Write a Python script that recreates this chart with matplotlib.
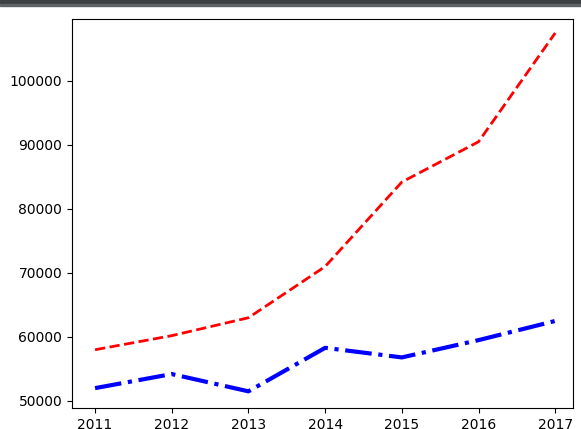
import matplotlib.pyplot as plt
from matplotlib.patches import Rectangle

years = [2011, 2012, 2013, 2014, 2015, 2016, 2017]
red_values = [58000, 60200, 63000, 71000, 84200, 90500, 107500]
blue_values = [52000, 54200, 51500, 58300, 56800, 59500, 62500]

fig = plt.figure(figsize=(5.81, 4.29), dpi=100)
ax = fig.add_axes([0.124, 0.049, 0.862, 0.907])

ax.plot(years, red_values, color="red", linestyle="--", linewidth=2)
ax.plot(years, blue_values, color="blue", linestyle="-.", linewidth=3)

ax.set_xlim(2010.70, 2017.23)
ax.set_ylim(48900, 109700)
ax.set_xticks(years)
ax.set_yticks([50000, 60000, 70000, 80000, 90000, 100000])

# window chrome at the top of the screenshot
fig.patches.append(Rectangle((0, 0.993), 1, 0.007, transform=fig.transFigure,
                             color="#3c4043", zorder=5))
fig.patches.append(Rectangle((0, 0.986), 1, 0.004, transform=fig.transFigure,
                             color="#5f6368", zorder=5))

fig.savefig("out.png", dpi=100)
